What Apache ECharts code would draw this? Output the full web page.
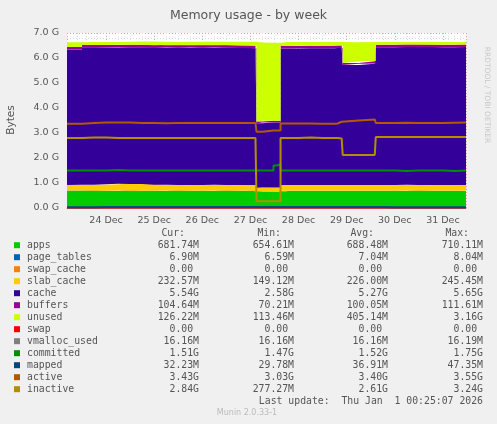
<!DOCTYPE html>
<html><head><meta charset="utf-8">
<script src="https://cdn.jsdelivr.net/npm/echarts@6/dist/echarts.min.js"></script>
<style>html,body{margin:0;padding:0;background:#F0F0F0}#c{width:497px;height:424px}</style>
</head><body><div id="c"></div>
<script>
// hours since 23 Dec 2025 00:00
const hours = [4.5,12,18,24,30,36,42,48,54,60,66,72,78,84,90,96,98.5,99,102,107.5,109,111,115,120,126,132,138,139.5,140,141.5,142,150,158,158.5,162,168,174,180,186,192,198,203.5];
const apps = [0.69,0.69,0.68,0.68,0.69,0.68,0.68,0.68,0.69,0.68,0.68,0.68,0.69,0.68,0.68,0.68,0.68,0.65,0.65,0.65,0.65,0.68,0.68,0.68,0.68,0.68,0.68,0.68,0.68,0.68,0.68,0.68,0.68,0.68,0.68,0.68,0.69,0.68,0.68,0.68,0.68,0.68];
const page_tables = [0.007,0.007,0.007,0.007,0.007,0.007,0.007,0.007,0.007,0.007,0.007,0.007,0.007,0.007,0.007,0.007,0.007,0.007,0.007,0.007,0.007,0.007,0.007,0.007,0.007,0.007,0.007,0.007,0.007,0.007,0.007,0.007,0.007,0.007,0.007,0.007,0.007,0.007,0.007,0.007,0.007,0.007];
const swap_cache = [0,0,0,0,0,0,0,0,0,0,0,0,0,0,0,0,0,0,0,0,0,0,0,0,0,0,0,0,0,0,0,0,0,0,0,0,0,0,0,0,0,0];
const slab_cache = [0.22,0.23,0.24,0.26,0.27,0.27,0.27,0.24,0.23,0.23,0.23,0.23,0.23,0.23,0.23,0.23,0.23,0.15,0.16,0.16,0.16,0.23,0.23,0.23,0.23,0.23,0.23,0.23,0.23,0.23,0.23,0.23,0.23,0.23,0.23,0.23,0.23,0.23,0.23,0.23,0.23,0.23];
const cache = [5.42,5.50,5.49,5.47,5.46,5.47,5.47,5.48,5.49,5.49,5.50,5.49,5.49,5.49,5.48,5.47,5.47,2.58,2.60,2.60,2.60,5.46,5.46,5.47,5.47,5.47,5.48,5.48,5.48,5.48,4.80,4.85,4.86,5.51,5.51,5.52,5.51,5.52,5.51,5.51,5.52,5.52];
const buffers = [0.10,0.10,0.10,0.10,0.10,0.10,0.10,0.10,0.10,0.10,0.10,0.10,0.10,0.10,0.10,0.10,0.10,0.07,0.07,0.07,0.07,0.10,0.10,0.10,0.10,0.10,0.10,0.10,0.10,0.10,0.08,0.10,0.10,0.10,0.10,0.10,0.10,0.10,0.10,0.10,0.10,0.10];
const unused = [0.19,0.11,0.12,0.12,0.12,0.13,0.13,0.14,0.12,0.14,0.13,0.14,0.13,0.14,0.15,0.16,0.16,3.16,3.12,3.12,3.12,0.16,0.16,0.15,0.15,0.15,0.14,0.14,0.14,0.14,0.83,0.77,0.76,0.11,0.11,0.10,0.10,0.10,0.11,0.11,0.10,0.10];
const swap = [0,0,0,0,0,0,0,0,0,0,0,0,0,0,0,0,0,0,0,0,0,0,0,0,0,0,0,0,0,0,0,0,0,0,0,0,0,0,0,0,0,0];
const vmalloc_used = [0.016,0.016,0.016,0.016,0.016,0.016,0.016,0.016,0.016,0.016,0.016,0.016,0.016,0.016,0.016,0.016,0.016,0.016,0.016,0.016,0.016,0.016,0.016,0.016,0.016,0.016,0.016,0.016,0.016,0.016,0.016,0.016,0.016,0.016,0.016,0.016,0.016,0.016,0.016,0.016,0.016,0.016];
const committed = [1.5,1.5,1.5,1.52,1.5,1.5,1.5,1.5,1.5,1.5,1.5,1.5,1.5,1.5,1.5,1.5,1.5,1.5,1.5,1.7,1.75,1.5,1.5,1.5,1.5,1.5,1.5,1.5,1.5,1.5,1.5,1.5,1.5,1.5,1.5,1.48,1.5,1.5,1.5,1.48,1.5,1.51];
const mapped = [0.035,0.035,0.036,0.037,0.036,0.036,0.037,0.037,0.036,0.037,0.037,0.036,0.037,0.037,0.036,0.036,0.036,0.045,0.045,0.045,0.045,0.037,0.037,0.037,0.036,0.036,0.036,0.036,0.036,0.036,0.036,0.036,0.036,0.036,0.035,0.034,0.033,0.033,0.033,0.032,0.032,0.032];
const active = [3.37,3.40,3.42,3.42,3.42,3.40,3.40,3.39,3.40,3.40,3.40,3.40,3.40,3.40,3.40,3.40,3.40,3.05,3.10,3.10,3.10,3.38,3.38,3.38,3.37,3.37,3.38,3.38,3.45,3.47,3.50,3.54,3.54,3.40,3.40,3.41,3.40,3.40,3.40,3.41,3.42,3.43];
const inactive = [2.80,2.82,2.82,2.80,2.80,2.80,2.80,2.80,2.80,2.80,2.80,2.80,2.80,2.80,2.80,2.80,2.80,0.27,0.27,0.27,0.27,2.80,2.80,2.82,2.80,2.80,2.80,2.80,2.78,2.75,2.12,2.12,2.12,2.84,2.84,2.84,2.84,2.84,2.84,2.84,2.84,2.84];

const names = ['apps','page_tables','swap_cache','slab_cache','cache','buffers','unused','swap','vmalloc_used','committed','mapped','active','inactive'];
const colors = ['#00CC00','#0066B3','#FF8000','#FFCC00','#330099','#990099','#CCFF00','#FF0000','#808080','#008F00','#00487D','#B35A00','#B38F00'];
const curVals = ['681.74M','6.90M','0.00 ','232.57M','5.54G','104.64M','126.22M','0.00 ','16.16M','1.51G','32.23M','3.43G','2.84G'];
const minVals = ['654.61M','6.59M','0.00 ','149.12M','2.58G','70.21M','113.46M','0.00 ','16.16M','1.47G','29.78M','3.03G','277.27M'];
const avgVals = ['688.48M','7.04M','0.00 ','226.00M','5.27G','100.05M','405.14M','0.00 ','16.16M','1.52G','36.91M','3.40G','2.61G'];
const maxVals = ['710.11M','8.04M','0.00 ','245.45M','5.65G','111.61M','3.16G','0.00 ','16.19M','1.75G','47.35M','3.55G','3.24G'];
const stackData = [apps,page_tables,swap_cache,slab_cache,cache,buffers,unused];
const lineData = [swap,vmalloc_used,committed,mapped,active,inactive];

const t0 = new Date(2025,11,23,0,0,0).getTime();
const toPts = arr => arr.map((v,i)=>[t0+hours[i]*3600000, v]);
const series = [];
stackData.forEach((d,i)=>series.push({name:names[i],type:'line',stack:'mem',step:'end',showSymbol:false,
  lineStyle:{width:0},areaStyle:{color:colors[i],opacity:1},itemStyle:{color:colors[i]},data:toPts(d),z:2}));
lineData.forEach((d,j)=>{const i=j+7;series.push({name:names[i],type:'line',step:'end',showSymbol:false,
  lineStyle:{width:2,color:colors[i]},itemStyle:{color:colors[i]},data:toPts(d),z:3});});

const mono = '"DejaVu Sans Mono", monospace';
const gfx = [];
const hdr = [['Cur:',185],['Min:',281],['Avg:',374],['Max:',469]];
hdr.forEach(h=>gfx.push({type:'text',x:h[1],y:233,style:{text:h[0],font:'9.8px '+mono,fill:'#555',align:'right',verticalAlign:'middle'}}));
names.forEach((n,i)=>{
  const y=245.7+i*12;
  gfx.push({type:'rect',shape:{x:14,y:y-3.5,width:6,height:6},style:{fill:colors[i]}});
  gfx.push({type:'text',x:27,y:y,style:{text:n,font:'9.8px '+mono,fill:'#555',verticalAlign:'middle'}});
  [[curVals,199],[minVals,294],[avgVals,388],[maxVals,483]].forEach(c=>
    gfx.push({type:'text',x:c[1],y:y,style:{text:c[0][i],font:'9.8px '+mono,fill:'#555',align:'right',verticalAlign:'middle'}}));
});
gfx.push({type:'text',x:483,y:401.7,style:{text:'Last update:  Thu Jan  1 00:25:07 2026',font:'9.8px '+mono,fill:'#555',align:'right',verticalAlign:'middle'}});
gfx.push({type:'text',x:247,y:413,style:{text:'Munin 2.0.33-1',font:'8px "DejaVu Sans"',fill:'#BBBBBB',align:'center',verticalAlign:'middle'}});
gfx.push({type:'text',x:487,y:95,rotation:-Math.PI/2,style:{text:'RRDTOOL / TOBI OETIKER',font:'7.5px "DejaVu Sans"',fill:'#C8C8C8',align:'center',verticalAlign:'middle'}});
gfx.push({type:'text',x:11,y:120,rotation:Math.PI/2,style:{text:'Bytes',font:'10.5px "DejaVu Sans"',fill:'#555',align:'center',verticalAlign:'middle'}});

const chart = echarts.init(document.getElementById('c'),null,{renderer:'canvas'});
chart.setOption({
  backgroundColor:'#F0F0F0',animation:false,
  title:{text:'Memory usage - by week',left:'center',top:4,textStyle:{fontFamily:'DejaVu Sans',fontSize:12.5,fontWeight:'normal',color:'#555'}},
  grid:{left:67,right:31,top:33,bottom:216,show:true,backgroundColor:'#FFFFFF',borderWidth:0},
  xAxis:{type:'time',min:t0+hours[0]*3600000,max:t0+hours[hours.length-1]*3600000,
    interval:86400000,minInterval:86400000,maxInterval:86400000,
    axisLine:{lineStyle:{color:'#aaa'}},axisTick:{show:false},
    axisLabel:{formatter:(v)=>{const d=new Date(v);return d.getDate()+' '+['Jan','Feb','Mar','Apr','May','Jun','Jul','Aug','Sep','Oct','Nov','Dec'][d.getMonth()];},
      color:'#555',fontFamily:'DejaVu Sans',fontSize:9.5,hideOverlap:false},
    splitLine:{show:true,lineStyle:{color:'#E8A0A0',type:[1,2],width:1}},
    minorTick:{show:false,splitNumber:4},minorSplitLine:{show:true,lineStyle:{color:'#DDDDDD',type:[1,2]}}},
  yAxis:{type:'value',min:0,max:7,interval:1,
    axisLine:{show:false},axisTick:{show:false},
    axisLabel:{formatter:v=>v.toFixed(1)+' G',color:'#555',fontFamily:'DejaVu Sans',fontSize:9.5},
    splitLine:{lineStyle:{color:'#E8A0A0',type:[1,2]}},
    minorTick:{show:false,splitNumber:5},minorSplitLine:{show:true,lineStyle:{color:'#DDDDDD',type:[1,2]}}},
  series:series,
  graphic:gfx
});
</script></body></html>
